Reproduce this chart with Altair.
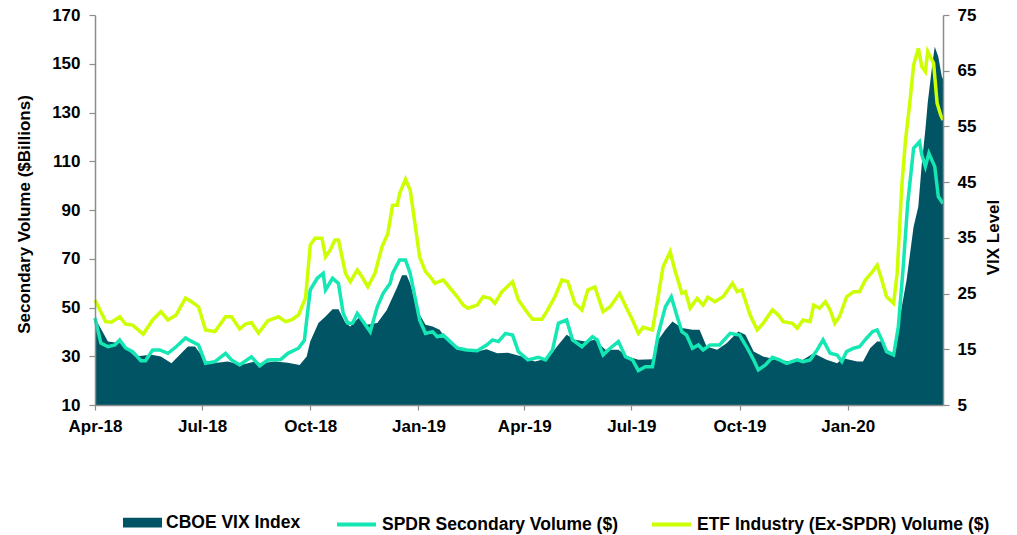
import altair as alt
import pandas as pd

# ---------------- data ----------------
vix_dates = [
    "2018-04-01", "2018-04-12", "2018-04-23", "2018-05-05", "2018-05-19", "2018-05-27",
    "2018-06-05", "2018-06-19", "2018-06-25", "2018-07-06", "2018-07-23", "2018-08-03",
    "2018-08-15", "2018-08-20", "2018-09-01", "2018-09-12", "2018-09-22", "2018-09-28",
    "2018-10-01", "2018-10-08", "2018-10-14", "2018-10-20", "2018-10-25", "2018-10-31",
    "2018-11-04", "2018-11-11", "2018-11-18", "2018-11-27", "2018-12-05", "2018-12-14",
    "2018-12-18", "2018-12-22", "2018-12-25", "2018-12-31", "2019-01-07", "2019-01-13",
    "2019-01-19", "2019-01-25", "2019-02-03", "2019-02-14", "2019-02-20", "2019-02-28",
    "2019-03-09", "2019-03-18", "2019-03-30", "2019-04-10", "2019-04-21", "2019-04-30",
    "2019-05-07", "2019-05-14", "2019-05-23", "2019-05-31", "2019-06-09", "2019-06-20",
    "2019-06-28", "2019-07-07", "2019-07-19", "2019-07-24", "2019-07-30", "2019-08-05",
    "2019-08-13", "2019-08-22", "2019-08-28", "2019-09-03", "2019-09-12", "2019-09-20",
    "2019-09-30", "2019-10-06", "2019-10-13", "2019-10-21", "2019-11-02", "2019-11-13",
    "2019-11-24", "2019-12-03", "2019-12-14", "2019-12-23", "2019-12-28", "2020-01-09",
    "2020-01-14", "2020-01-20", "2020-01-26", "2020-01-30", "2020-02-03", "2020-02-09",
    "2020-02-14", "2020-02-20", "2020-02-26", "2020-03-01", "2020-03-04", "2020-03-07",
    "2020-03-09", "2020-03-13", "2020-03-15", "2020-03-18", "2020-03-21", "2020-03-22",
]
vix_values = [
    20.6, 16.4, 16.1, 13.7, 14.0, 13.7,
    12.5, 15.5, 15.5, 12.4, 12.8, 12.2,
    12.8, 12.5, 12.8, 12.6, 12.2, 13.7,
    16.4, 19.7, 20.9, 22.2, 22.2, 19.7,
    19.1, 20.6, 19.4, 19.7, 22.0, 26.2,
    28.3, 28.3, 26.8, 22.0, 19.4, 19.1,
    18.5, 16.7, 15.5, 14.9, 14.6, 15.0,
    14.3, 14.4, 13.7, 12.8, 13.4, 15.8,
    17.6, 16.7, 16.4, 16.7, 14.9, 14.9,
    13.7, 13.1, 13.2, 16.7, 18.5, 20.0,
    18.8, 18.5, 18.5, 15.5, 14.9, 16.1,
    18.2, 17.6, 14.6, 13.7, 13.1, 12.8,
    13.1, 14.3, 13.1, 12.5, 13.4, 12.8,
    12.8, 15.2, 16.4, 16.4, 14.9, 14.3,
    20.3, 27.4, 37.0, 40.6, 48.4, 54.4,
    59.2, 66.3, 69.3, 67.5, 63.9, 63.5,
]

spdr_dates = [
    "2018-04-01", "2018-04-06", "2018-04-12", "2018-04-18", "2018-04-22", "2018-04-27",
    "2018-05-03", "2018-05-10", "2018-05-14", "2018-05-20", "2018-05-26", "2018-06-02",
    "2018-06-09", "2018-06-17", "2018-06-21", "2018-06-28", "2018-07-04", "2018-07-12",
    "2018-07-21", "2018-07-26", "2018-08-02", "2018-08-12", "2018-08-19", "2018-08-26",
    "2018-09-06", "2018-09-12", "2018-09-21", "2018-09-26", "2018-10-01", "2018-10-07",
    "2018-10-12", "2018-10-14", "2018-10-20", "2018-10-25", "2018-10-29", "2018-11-02",
    "2018-11-06", "2018-11-10", "2018-11-15", "2018-11-21", "2018-11-27", "2018-12-02",
    "2018-12-08", "2018-12-10", "2018-12-16", "2018-12-21", "2018-12-25", "2018-12-29",
    "2019-01-02", "2019-01-07", "2019-01-13", "2019-01-17", "2019-01-22", "2019-01-28",
    "2019-02-03", "2019-02-11", "2019-02-20", "2019-02-28", "2019-03-05", "2019-03-10",
    "2019-03-16", "2019-03-22", "2019-03-27", "2019-04-04", "2019-04-13", "2019-04-19",
    "2019-04-25", "2019-04-30", "2019-05-07", "2019-05-12", "2019-05-20", "2019-05-29",
    "2019-06-02", "2019-06-07", "2019-06-13", "2019-06-20", "2019-06-26", "2019-07-02",
    "2019-07-07", "2019-07-13", "2019-07-19", "2019-07-24", "2019-07-30", "2019-08-04",
    "2019-08-09", "2019-08-13", "2019-08-17", "2019-08-22", "2019-08-27", "2019-08-31",
    "2019-09-06", "2019-09-14", "2019-09-23", "2019-10-01", "2019-10-07", "2019-10-13",
    "2019-10-17", "2019-10-23", "2019-10-29", "2019-11-04", "2019-11-10", "2019-11-19",
    "2019-11-24", "2019-11-30", "2019-12-06", "2019-12-11", "2019-12-17", "2019-12-23",
    "2019-12-27", "2019-12-31", "2020-01-06", "2020-01-11", "2020-01-17", "2020-01-22",
    "2020-01-26", "2020-01-30", "2020-02-03", "2020-02-09", "2020-02-13", "2020-02-17",
    "2020-02-21", "2020-02-26", "2020-03-02", "2020-03-04", "2020-03-07", "2020-03-10",
    "2020-03-15", "2020-03-18", "2020-03-22",
]
spdr_values = [
    45.7, 35.4, 33.9, 34.6, 36.7, 33.4,
    31.9, 28.2, 28.2, 32.6, 32.6, 31.2,
    33.9, 37.5, 36.4, 34.6, 27.1, 27.8,
    31.2, 28.5, 26.4, 29.8, 26.0, 28.5,
    28.7, 31.2, 33.3, 36.5, 57.2, 62.0,
    64.0, 57.2, 62.0, 59.9, 47.6, 43.5,
    43.5, 47.6, 44.2, 40.1, 50.3, 55.8,
    59.9, 64.0, 69.5, 69.5, 64.0, 54.4,
    44.9, 39.4, 40.1, 38.0, 38.7, 36.0,
    33.3, 32.6, 32.3, 34.6, 36.7, 36.0,
    39.4, 38.7, 31.9, 28.5, 29.6, 28.5,
    32.6, 43.5, 44.9, 36.7, 33.9, 38.0,
    36.7, 30.5, 33.3, 36.0, 29.8, 28.5,
    24.1, 25.7, 25.7, 39.4, 50.3, 54.4,
    46.2, 40.1, 38.7, 33.3, 34.6, 32.6,
    34.6, 34.6, 39.4, 38.7, 33.9, 28.5,
    24.4, 26.4, 29.6, 28.5, 27.1, 28.5,
    27.8, 28.5, 32.6, 36.7, 31.2, 30.5,
    27.8, 31.9, 33.3, 33.9, 37.4, 40.1,
    40.8, 36.7, 31.9, 30.5, 42.1, 65.4,
    92.7, 115.3, 118.0, 112.6, 107.8, 113.3,
    107.8, 95.5, 92.7,
]

etf_dates = [
    "2018-04-01", "2018-04-10", "2018-04-15", "2018-04-22", "2018-04-27", "2018-05-03",
    "2018-05-12", "2018-05-20", "2018-05-27", "2018-06-02", "2018-06-09", "2018-06-17",
    "2018-06-22", "2018-06-28", "2018-07-04", "2018-07-12", "2018-07-21", "2018-07-26",
    "2018-08-02", "2018-08-07", "2018-08-12", "2018-08-18", "2018-08-26", "2018-09-04",
    "2018-09-10", "2018-09-15", "2018-09-21", "2018-09-24", "2018-09-27", "2018-10-01",
    "2018-10-05", "2018-10-11", "2018-10-14", "2018-10-18", "2018-10-22", "2018-10-25",
    "2018-10-31", "2018-11-04", "2018-11-10", "2018-11-14", "2018-11-19", "2018-11-25",
    "2018-12-01", "2018-12-06", "2018-12-10", "2018-12-14", "2018-12-16", "2018-12-21",
    "2018-12-25", "2018-12-29", "2019-01-02", "2019-01-07", "2019-01-11", "2019-01-15",
    "2019-01-22", "2019-01-28", "2019-02-03", "2019-02-08", "2019-02-12", "2019-02-20",
    "2019-02-25", "2019-03-03", "2019-03-07", "2019-03-13", "2019-03-22", "2019-03-27",
    "2019-04-02", "2019-04-08", "2019-04-16", "2019-04-20", "2019-04-27", "2019-05-03",
    "2019-05-08", "2019-05-14", "2019-05-20", "2019-05-25", "2019-05-31", "2019-06-07",
    "2019-06-13", "2019-06-21", "2019-06-27", "2019-07-02", "2019-07-07", "2019-07-11",
    "2019-07-19", "2019-07-24", "2019-07-28", "2019-08-03", "2019-08-07", "2019-08-13",
    "2019-08-16", "2019-08-20", "2019-08-26", "2019-08-31", "2019-09-04", "2019-09-10",
    "2019-09-17", "2019-09-25", "2019-09-29", "2019-10-03", "2019-10-10", "2019-10-16",
    "2019-10-21", "2019-10-29", "2019-11-03", "2019-11-07", "2019-11-15", "2019-11-19",
    "2019-11-24", "2019-11-30", "2019-12-03", "2019-12-08", "2019-12-13", "2019-12-17",
    "2019-12-21", "2019-12-25", "2019-12-31", "2020-01-06", "2020-01-11", "2020-01-16",
    "2020-01-22", "2020-01-26", "2020-01-30", "2020-02-03", "2020-02-09", "2020-02-12",
    "2020-02-16", "2020-02-19", "2020-02-23", "2020-02-26", "2020-03-01", "2020-03-04",
    "2020-03-07", "2020-03-09", "2020-03-14", "2020-03-17", "2020-03-20", "2020-03-22",
]
etf_values = [
    53.1, 44.2, 44.0, 46.2, 43.2, 42.8,
    39.1, 44.9, 48.3, 44.9, 46.9, 53.9,
    52.4, 50.3, 40.8, 40.1, 46.2, 46.2,
    41.2, 43.2, 43.8, 39.5, 44.6, 46.2,
    44.2, 44.9, 46.9, 50.5, 53.9, 75.6,
    78.4, 78.4, 70.8, 73.6, 77.7, 77.7,
    64.0, 60.6, 65.4, 62.6, 58.5, 64.0,
    74.9, 80.4, 92.0, 92.0, 96.8, 102.6,
    98.2, 84.5, 70.8, 64.7, 62.6, 59.9,
    61.3, 57.9, 54.4, 51.0, 49.7, 51.0,
    54.4, 53.8, 51.7, 56.5, 60.6, 53.1,
    49.0, 45.2, 45.2, 48.3, 54.4, 61.3,
    60.6, 51.7, 49.0, 57.2, 58.5, 48.3,
    50.3, 55.8, 49.7, 44.9, 39.4, 41.9,
    40.8, 55.1, 66.7, 72.9, 65.4, 55.8,
    56.5, 49.7, 53.8, 51.0, 54.2, 52.4,
    54.4, 59.9, 56.5, 57.2, 46.9, 40.8,
    43.5, 49.0, 46.9, 44.2, 43.5, 41.5,
    44.9, 44.2, 51.0, 49.7, 52.4, 49.0,
    43.5, 46.2, 54.4, 56.5, 56.5, 61.3,
    64.7, 67.4, 61.3, 54.4, 51.7, 64.0,
    100.0, 118.0, 135.0, 149.5, 156.3, 148.8,
    146.7, 155.0, 150.2, 133.8, 129.0, 126.9,
]

series_names = [
    "CBOE VIX Index",
    "SPDR Secondary Volume ($)",
    "ETF Industry (Ex-SPDR) Volume ($)",
]
series_colors = ["#005463", "#14E6B4", "#CCFF00"]

x_start = "2018-04-01"
x_end = "2020-03-22"
x_tick_dates = [
    "2018-04-01", "2018-07-01", "2018-10-01", "2019-01-01",
    "2019-04-01", "2019-07-01", "2019-10-01", "2020-01-01",
]
left_ticks = [10, 30, 50, 70, 90, 110, 130, 150, 170]
right_ticks = [5, 15, 25, 35, 45, 55, 65, 75]

# ---------------- tables ----------------
vix_df = pd.DataFrame({"date": vix_dates, "value": vix_values, "series": series_names[0]})
lines_df = pd.concat(
    [
        pd.DataFrame({"date": spdr_dates, "value": spdr_values, "series": series_names[1]}),
        pd.DataFrame({"date": etf_dates, "value": etf_values, "series": series_names[2]}),
    ],
    ignore_index=True,
)

FONT = "Liberation Sans"
FS = 17
LEG_FS = 17.5
AXIS_GREY = "#8C8C8C"


def dt(s):
    y, m, d = (int(p) for p in s.split("-"))
    return alt.DateTime(year=y, month=m, date=d, utc=True)


x_enc = alt.X(
    "date:T",
    title=None,
    scale=alt.Scale(type="utc", domain=[dt(x_start), dt(x_end)]),
    axis=alt.Axis(
        values=[dt(s) for s in x_tick_dates],
        format="%b-%y",
        labelFlush=False,
        labelOverlap=False,
        tickSize=5,
        labelPadding=8,
        zindex=1,
    ),
)

area = alt.Chart(vix_df).mark_area(interpolate="linear").encode(
    x=x_enc,
    y=alt.Y(
        "value:Q",
        scale=alt.Scale(domain=[5, 75], nice=False, zero=False),
        axis=alt.Axis(
            orient="right",
            values=right_ticks,
            title="VIX Level",
            titleAngle=270,
            titleBaseline="top",
            titleY=222,
            titlePadding=10,
            tickSize=6,
            labelPadding=8,
            zindex=1,
        ),
    ),
    y2=alt.datum(5),
    fill=alt.Fill(
        "series:N",
        scale=alt.Scale(domain=[series_names[0]], range=[series_colors[0]]),
        legend=alt.Legend(
            title=None,
            orient="none",
            direction="horizontal",
            legendX=28,
            legendY=488,
            symbolType="M-1,-0.25H1V0.25H-1Z",
            symbolSize=1521,
            symbolStrokeWidth=0,
            labelOffset=4,
            labelLimit=400,
        ),
    ),
)

lines = alt.Chart(lines_df).mark_line(strokeWidth=3.5, interpolate="linear").encode(
    x=x_enc,
    y=alt.Y(
        "value:Q",
        scale=alt.Scale(domain=[10, 170], nice=False, zero=False),
        axis=alt.Axis(
            orient="left",
            values=left_ticks,
            title="Secondary Volume ($Billions)",
            titleY=199,
            titlePadding=18,
            tickSize=6,
            labelPadding=9,
            zindex=1,
        ),
    ),
    stroke=alt.Stroke(
        "series:N",
        scale=alt.Scale(domain=series_names[1:], range=series_colors[1:]),
        legend=alt.Legend(
            title=None,
            orient="none",
            direction="horizontal",
            legendX=240,
            legendY=488,
            symbolType="M-1,0H1",
            symbolSize=1521,
            symbolStrokeWidth=4,
            columnPadding=26,
            labelOffset=4,
            labelLimit=400,
        ),
    ),
)

chart = (
    alt.layer(area, lines)
    .resolve_scale(y="independent", fill="independent", stroke="independent")
    .properties(
        width=848,
        height=390,
        autosize=alt.AutoSizeParams(type="none"),
        padding={"left": 87, "top": 7, "right": 66, "bottom": 130},
        background="white",
    )
    .configure_view(stroke=None)
    .configure_axis(
        grid=False,
        domainColor=AXIS_GREY,
        domainWidth=1.5,
        tickColor=AXIS_GREY,
        tickWidth=1.2,
        labelFont=FONT,
        labelFontSize=FS,
        labelFontWeight="bold",
        labelColor="#000000",
        titleFont=FONT,
        titleFontSize=FS,
        titleFontWeight="bold",
        titleColor="#000000",
    )
    .configure_legend(
        labelFont=FONT,
        labelFontSize=LEG_FS,
        labelFontWeight="bold",
        labelColor="#000000",
    )
)

chart.save("out.html", embed_options={"renderer": "svg", "actions": False})
